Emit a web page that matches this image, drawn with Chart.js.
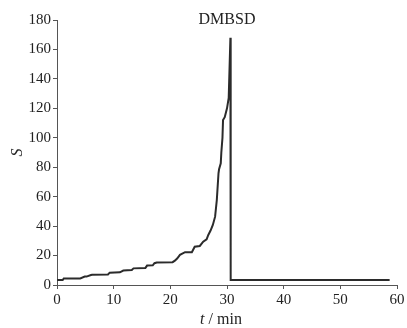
<!DOCTYPE html>
<html>
<head>
<meta charset="utf-8">
<script src="https://cdn.jsdelivr.net/npm/chart.js@4"></script>
<style>
html,body{margin:0;padding:0;background:#fff;}
#wrap{width:407px;height:328px;}
</style>
</head>
<body>
<div id="wrap"><canvas id="c" width="407" height="328"></canvas></div>
<script>
const chartTitle = 'DMBSD';
const xTitleItalic = 't';
const xTitleRest = ' / min';
const yTitle = 'S';
const tValues = [0, 1.0, 1.2, 4.1, 4.9, 5.2, 6.0, 6.2, 9.0, 9.3, 11.1, 11.7, 13.2, 13.5, 15.6, 15.9, 16.9, 17.2, 17.6, 20.4, 20.8, 21.2, 21.7, 22.6, 23.8, 24.3, 25.2, 25.8, 26.4, 26.7, 27.1, 27.5, 27.9, 28.2, 28.5, 28.6, 28.9, 29.0, 29.2, 29.3, 29.6, 30.0, 30.3, 30.6, 30.65, 58.7];
const sValues = [3.4, 3.4, 4.5, 4.5, 5.7, 5.7, 6.8, 7.0, 7.2, 8.4, 8.6, 9.8, 10.2, 11.3, 11.6, 13.2, 13.4, 14.8, 15.3, 15.5, 16.5, 18, 20.5, 22.3, 22.3, 26, 26.5, 29.4, 31, 34, 37, 40.8, 46.4, 57.7, 75.9, 78.6, 82.7, 90, 100, 112, 114, 120, 127, 168, 3.4, 3.4];
const xTicks = [0, 10, 20, 30, 40, 50, 60];
const yTicks = [0, 20, 40, 60, 80, 100, 120, 140, 160, 180];

const FONT = '"Liberation Serif", "Times New Roman", serif';
const TXT = '#222';
const AX = '#555';

const textPlugin = {
  id: 'textPlugin',
  afterDraw(chart) {
    const ctx = chart.ctx;
    const a = chart.chartArea;
    const cx = (a.left + a.right) / 2;
    ctx.save();
    ctx.fillStyle = TXT;
    ctx.textBaseline = 'middle';
    ctx.textAlign = 'center';
    ctx.font = '16px ' + FONT;
    ctx.fillText(chartTitle, cx, 20);
    // x-axis title with italic t
    const fi = 'italic 16px ' + FONT;
    const fn = '16px ' + FONT;
    ctx.font = fi; const w1 = ctx.measureText(xTitleItalic).width;
    ctx.font = fn; const w2 = ctx.measureText(xTitleRest).width;
    let x0 = cx - 6 - (w1 + w2) / 2;
    ctx.textAlign = 'left';
    ctx.font = fi; ctx.fillText(xTitleItalic, x0, 320);
    ctx.font = fn; ctx.fillText(xTitleRest, x0 + w1, 320);
    ctx.restore();
  }
};

new Chart(document.getElementById('c'), {
  type: 'scatter',
  data: {
    datasets: [{
      data: tValues.map((t, i) => ({x: t, y: sValues[i]})),
      showLine: true,
      borderColor: '#2b2b2b',
      borderWidth: 2,
      pointRadius: 0,
      tension: 0,
      fill: false
    }]
  },
  options: {
    responsive: false,
    animation: false,
    layout: {padding: {top: 20, right: 10, left: 0, bottom: 0}},
    plugins: {legend: {display: false}, tooltip: {enabled: false}, title: {display: false}},
    scales: {
      x: {
        type: 'linear', min: 0, max: 60,
        afterFit(s) { s.height = 43; },
        afterBuildTicks(s) { s.ticks = xTicks.map(v => ({value: v})); },
        grid: {display: true, drawOnChartArea: false, drawTicks: true, tickLength: 4, color: AX},
        border: {display: true, color: AX, width: 1},
        ticks: {color: TXT, font: {family: FONT, size: 15}, padding: 2, maxRotation: 0}
      },
      y: {
        min: 0, max: 180,
        afterFit(s) { s.width = 57; },
        afterBuildTicks(s) { s.ticks = yTicks.map(v => ({value: v})); },
        grid: {display: true, drawOnChartArea: false, drawTicks: true, tickLength: 4, color: AX},
        border: {display: true, color: AX, width: 1},
        ticks: {color: TXT, font: {family: FONT, size: 15}, padding: 2},
        title: {display: true, text: yTitle, color: TXT, font: {family: FONT, size: 16, style: 'italic'}, padding: {top: 8, bottom: 0}}
      }
    }
  },
  plugins: [textPlugin]
});
</script>
</body>
</html>
